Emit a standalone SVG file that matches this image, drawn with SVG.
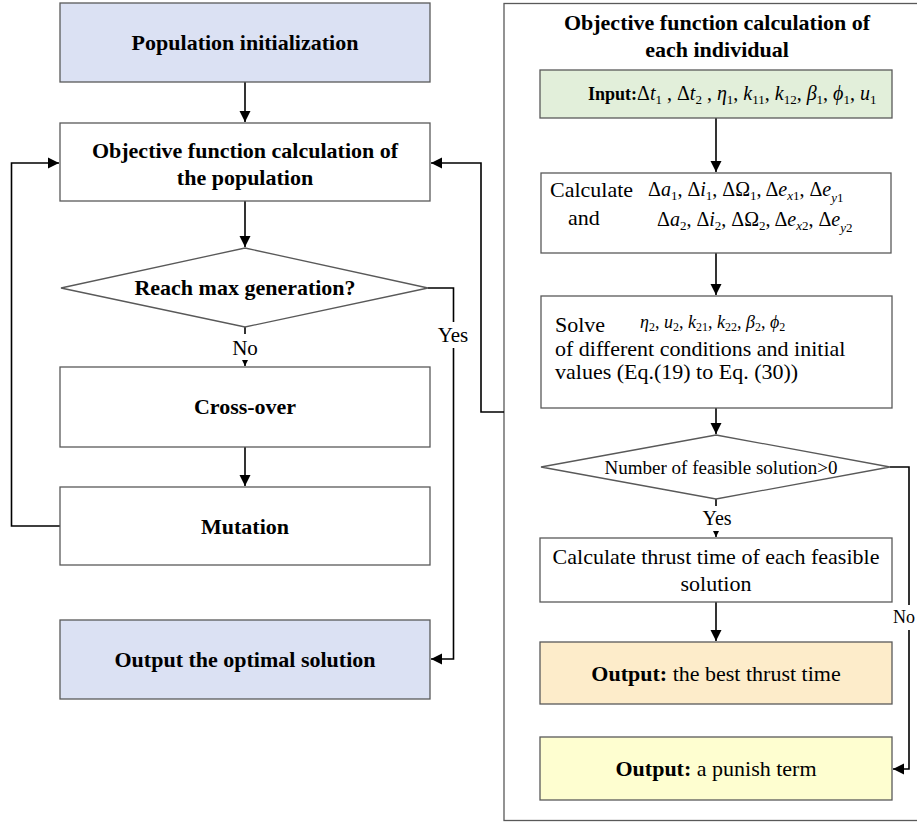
<svg xmlns="http://www.w3.org/2000/svg" width="917" height="822" viewBox="0 0 917 822">
<style>
text{font-family:"Liberation Serif","Times New Roman",serif;font-size:22px;fill:#000}
.c{text-anchor:middle}
.b{font-weight:bold}
.box{stroke:#595959;stroke-width:1.3;fill:#fff}
.blue{fill:#dbe1f3}
.green{fill:#e2efda}
.peach{fill:#fdecca}
.yellow{fill:#fefed0}
.panel{fill:none;stroke:#595959;stroke-width:1.3}
.con{fill:none;stroke:#000;stroke-width:1.6}
.m{font-size:20px}
.mi{font-size:20px;font-style:italic}
.sb{font-size:13px}
.sbi{font-size:13px;font-style:italic}
.s2{font-size:18px;font-style:italic}
.s2n{font-size:18px}
.s2s{font-size:12px}
.lbl{font-size:21px}
</style>
<defs>
<marker id="arr" markerUnits="userSpaceOnUse" markerWidth="12" markerHeight="12" refX="11" refY="6" orient="auto">
<path d="M0,0.5 L11,6 L0,11.5 z" fill="#000"/>
</marker>
</defs>

<rect class="panel" x="504" y="3.5" width="430" height="817"/>
<text class="c b" x="717" y="30">Objective function calculation of</text>
<text class="c b" x="717" y="57">each individual</text>

<g id="connectors">
<path class="con" d="M245,82 V122" marker-end="url(#arr)"/>
<path class="con" d="M245,201 V247" marker-end="url(#arr)"/>
<path class="con" d="M245,327 V366" marker-end="url(#arr)"/>
<path class="con" d="M245,447 V486" marker-end="url(#arr)"/>
<path class="con" d="M60,526 H11.5 V163 H59" marker-end="url(#arr)"/>
<path class="con" d="M428,288 H453.5 V659 H431" marker-end="url(#arr)"/>
<path class="con" d="M504,412 H481 V163 H431" marker-end="url(#arr)"/>
<path class="con" d="M716,118 V172" marker-end="url(#arr)"/>
<path class="con" d="M716,253 V295" marker-end="url(#arr)"/>
<path class="con" d="M716,408 V434" marker-end="url(#arr)"/>
<path class="con" d="M716,499 V537" marker-end="url(#arr)"/>
<path class="con" d="M716,602 V641" marker-end="url(#arr)"/>
<path class="con" d="M890,467 H909 V769 H893" marker-end="url(#arr)"/>
<rect x="226" y="334" width="38" height="26" fill="#fff"/>
<text class="c lbl" x="245" y="355">No</text>
<rect x="434" y="322" width="38" height="26" fill="#fff"/>
<text class="c lbl" x="453" y="342">Yes</text>
<rect x="698" y="506" width="38" height="25" fill="#fff"/>
<text class="c" x="717" y="525" style="font-size:20px">Yes</text>
<rect x="892" y="605" width="25" height="25" fill="#fff"/>
<text x="893" y="623" style="font-size:18px">No</text>
</g>

<g id="pop-init">
<rect class="box blue" x="60" y="3" width="370" height="79"/>
<text class="c b" x="245" y="50">Population initialization</text>
</g>
<g id="obj-pop">
<rect class="box" x="60" y="123" width="370" height="78"/>
<text class="c b" x="245" y="158">Objective function calculation of</text>
<text class="c b" x="245" y="185">the population</text>
</g>
<g id="reach-max">
<polygon class="box" points="245,248 428,288 245,327 61,288"/>
<text class="c b" x="245" y="295">Reach max generation?</text>
</g>
<g id="cross-over">
<rect class="box" x="60" y="367" width="370" height="80"/>
<text class="c b" x="245" y="414">Cross-over</text>
</g>
<g id="mutation">
<rect class="box" x="60" y="487" width="370" height="78"/>
<text class="c b" x="245" y="534">Mutation</text>
</g>
<g id="output-optimal">
<rect class="box blue" x="60" y="620" width="370" height="79"/>
<text class="c b" x="245" y="667">Output the optimal solution</text>
</g>

<g id="input">
<rect class="box green" x="540" y="70" width="352" height="48"/>
<text x="588" y="100"><tspan class="b" style="font-size:18px">Input:</tspan><tspan class="m">Δ</tspan><tspan class="mi">t</tspan><tspan class="sb" dy="4">1</tspan><tspan class="m" dy="-4"> , Δ</tspan><tspan class="mi">t</tspan><tspan class="sb" dy="4">2</tspan><tspan class="m" dy="-4"> , </tspan><tspan class="mi">η</tspan><tspan class="sb" dy="4">1</tspan><tspan class="m" dy="-4">, </tspan><tspan class="mi">k</tspan><tspan class="sb" dy="4">11</tspan><tspan class="m" dy="-4">, </tspan><tspan class="mi">k</tspan><tspan class="sb" dy="4">12</tspan><tspan class="m" dy="-4">, </tspan><tspan class="mi">β</tspan><tspan class="sb" dy="4">1</tspan><tspan class="m" dy="-4">, </tspan><tspan class="mi">ϕ</tspan><tspan class="sb" dy="4">1</tspan><tspan class="m" dy="-4">, </tspan><tspan class="mi">u</tspan><tspan class="sb" dy="4">1</tspan></text>
</g>
<g id="calculate">
<rect class="box" x="541" y="173" width="350" height="80"/>
<text x="550" y="197">Calculate</text>
<text x="568" y="225">and</text>
<text x="648" y="196"><tspan class="m">Δ</tspan><tspan class="mi">a</tspan><tspan class="sb" dy="4">1</tspan><tspan class="m" dy="-4">, Δ</tspan><tspan class="mi">i</tspan><tspan class="sb" dy="4">1</tspan><tspan class="m" dy="-4">, ΔΩ</tspan><tspan class="sb" dy="4">1</tspan><tspan class="m" dy="-4">, Δ</tspan><tspan class="mi">e</tspan><tspan class="sbi" dy="4">x</tspan><tspan class="sb">1</tspan><tspan class="m" dy="-4">, Δ</tspan><tspan class="mi">e</tspan><tspan class="sbi" dy="6">y</tspan><tspan class="sb">1</tspan></text>
<text x="657" y="226"><tspan class="m">Δ</tspan><tspan class="mi">a</tspan><tspan class="sb" dy="4">2</tspan><tspan class="m" dy="-4">, Δ</tspan><tspan class="mi">i</tspan><tspan class="sb" dy="4">2</tspan><tspan class="m" dy="-4">, ΔΩ</tspan><tspan class="sb" dy="4">2</tspan><tspan class="m" dy="-4">, Δ</tspan><tspan class="mi">e</tspan><tspan class="sbi" dy="4">x</tspan><tspan class="sb">2</tspan><tspan class="m" dy="-4">, Δ</tspan><tspan class="mi">e</tspan><tspan class="sbi" dy="6">y</tspan><tspan class="sb">2</tspan></text>
</g>
<g id="solve">
<rect class="box" x="541" y="296" width="351" height="112"/>
<text x="555" y="332">Solve</text>
<text x="640" y="328"><tspan class="s2">η</tspan><tspan class="s2s" dy="3">2</tspan><tspan class="s2n" dy="-3">, </tspan><tspan class="s2">u</tspan><tspan class="s2s" dy="3">2</tspan><tspan class="s2n" dy="-3">, </tspan><tspan class="s2">k</tspan><tspan class="s2s" dy="3">21</tspan><tspan class="s2n" dy="-3">, </tspan><tspan class="s2">k</tspan><tspan class="s2s" dy="3">22</tspan><tspan class="s2n" dy="-3">, </tspan><tspan class="s2">β</tspan><tspan class="s2s" dy="3">2</tspan><tspan class="s2n" dy="-3">, </tspan><tspan class="s2">ϕ</tspan><tspan class="s2s" dy="3">2</tspan></text>
<text x="555" y="356">of different conditions and initial</text>
<text x="555" y="379">values (Eq.(19) to Eq. (30))</text>
</g>
<g id="feasible">
<polygon class="box" points="716,435 890,467 716,499 541,467"/>
<text class="c" x="721" y="474" style="font-size:19px">Number of feasible solution&gt;0</text>
</g>
<g id="calc-thrust">
<rect class="box" x="540" y="538" width="352" height="64"/>
<text class="c" x="716" y="564">Calculate thrust time of each feasible</text>
<text class="c" x="716" y="591">solution</text>
</g>
<g id="output-best">
<rect class="box peach" x="540" y="642" width="352" height="62"/>
<text class="c" x="716" y="681"><tspan class="b">Output:</tspan> the best thrust time</text>
</g>
<g id="output-punish">
<rect class="box yellow" x="540" y="737" width="352" height="63"/>
<text class="c" x="716" y="776"><tspan class="b">Output:</tspan> a punish term</text>
</g>
</svg>
